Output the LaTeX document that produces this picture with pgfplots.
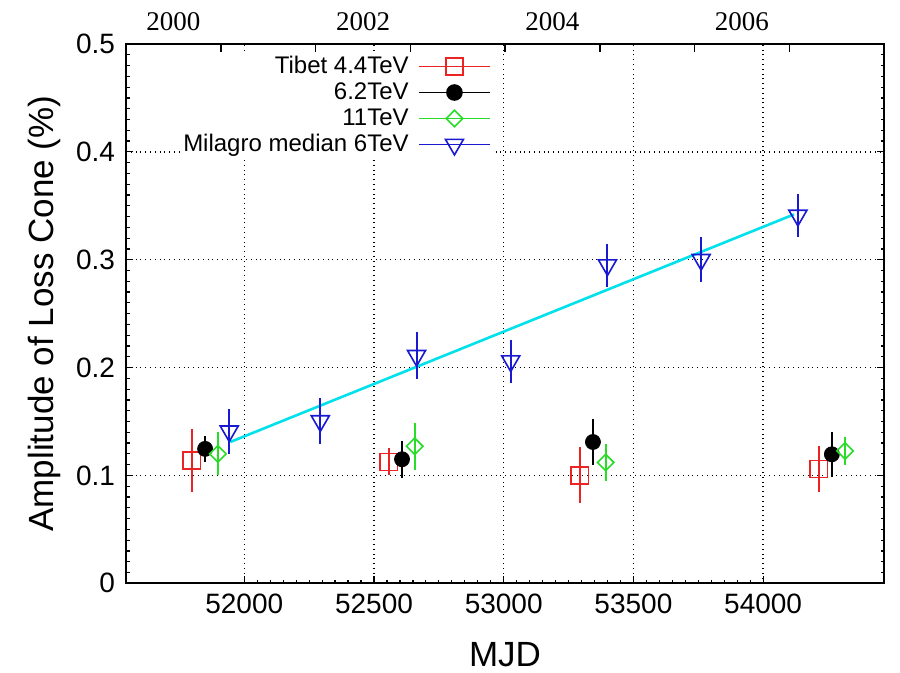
\documentclass[border=0pt]{standalone}
\usepackage{fontspec}
\setmainfont{Liberation Sans}
\newfontfamily\yearfont{Liberation Serif}
\usepackage{pgfplots}
\pgfplotsset{compat=1.18}

\definecolor{tibetred}{RGB}{235,35,35}
\definecolor{tibetgreen}{RGB}{40,220,40}
\definecolor{milblue}{RGB}{25,25,210}
\definecolor{fitcyan}{RGB}{0,225,235}

\pgfplotstableread{
x      y       e
51798  0.1140  0.029
52557  0.1125  0.0125
53293  0.1000  0.026
54215  0.1060  0.021
}\tibetlow
\pgfplotstableread{
x      y       e
51849  0.1246  0.012
52608  0.1150  0.017
53344  0.1310  0.021
54265  0.1196  0.021
}\tibetmid
\pgfplotstableread{
x      y       e
51898  0.1200  0.020
52657  0.1270  0.022
53393  0.1120  0.017
54316  0.1227  0.013
}\tibethigh
\pgfplotstableread{
x      y       e
51942  0.1410  0.021
52293  0.1505  0.021
52664  0.2110  0.022
53027  0.2060  0.020
53400  0.2950  0.020
53761  0.3000  0.021
54134  0.3410  0.020
}\milagro

% legend sample: coloured line with the marker in its middle
\newcommand{\legsample}[2]{%
  \addlegendimage{legend image code/.code={%
    \draw[#1, line width=0.75pt] (0pt,0pt) -- (35.5pt,0pt);
    \draw[#1, line width=0.8pt] plot[#2] coordinates {(17.75pt,0pt)};}}}

\begin{document}
\begin{tikzpicture}
\useasboundingbox (0,0) rectangle (450pt,336.5pt);

% top axis: calendar years
\begin{axis}[
    at={(63pt,44.85pt)}, anchor=south west,
    scale only axis, width=379pt, height=269.65pt,
    xmin=51544, xmax=54466, ymin=0, ymax=0.5,
    axis x line*=top, hide y axis,
    scaled x ticks=false,
    tick align=inside,
    xtick={51910,52275,52640,53005,53371,53736,54101},
    xticklabels={},
    major tick length=4pt,
    every tick/.style={black, line width=0.6pt},
    axis line style={line width=1pt},
    extra x ticks={51727,52458,53188,53918},
    extra x tick labels={2000,2002,2004,2006},
    extra x tick style={major tick length=0pt,
        tick label style={font=\yearfont\fontsize{13.5}{14}\selectfont, yshift=3pt}},
]
\end{axis}

\begin{axis}[
    at={(63pt,44.85pt)}, anchor=south west,
    scale only axis, width=379pt, height=269.65pt,
    xmin=51544, xmax=54466, ymin=0, ymax=0.5,
    xtick={52000,52500,53000,53500,54000},
    ytick={0,0.1,0.2,0.3,0.4,0.5},
    scaled x ticks=false,
    minor x tick num=9, minor y tick num=9,
    xtick pos=left, ytick pos=both,
    tick align=inside,
    major tick length=3.5pt, minor tick length=1.75pt,
    every tick/.style={black, line width=0.6pt},
    axis line style={line width=1pt},
    grid=major,
    major grid style={black, dotted, line width=0.7pt},
    /pgf/number format/assume math mode=true,
    tick label style={font=\fontsize{14}{16}\selectfont},
    x tick label style={/pgf/number format/1000 sep={}, yshift=-2pt},
    y tick label style={/pgf/number format/fixed, xshift=-2pt},
    xlabel={MJD},
    ylabel={Amplitude of Loss Cone (\%)},
    label style={font=\fontsize{17.5}{20}\selectfont},
    xlabel style={at={(axis description cs:0.5,-0.133)}, anchor=center},
    ylabel style={at={(axis description cs:-0.108,0.5)}, anchor=center},
    legend plot pos=right,
    legend cell align=right,
    legend style={at={(0.4843,0.9868)}, anchor=north east, draw=none, fill=white,
        inner sep=1pt, row sep=0pt, /tikz/column sep=4pt,
        font=\fontsize{12}{13}\selectfont,
        nodes={text height=9pt, text depth=2.5pt, inner sep=0.75pt}},
]
\addplot[fitcyan, line width=1.3pt, forget plot] coordinates {(51946,0.131) (54119,0.342)};

\addplot[only marks, tibetred, mark=square, mark size=4.3pt, mark options={line width=0.8pt},
    forget plot, error bars/.cd, y dir=both, y explicit, error mark=none,
    error bar style={line width=1pt}]
    table[x=x, y=y, y error=e] {\tibetlow};
\addplot[only marks, black, mark=*, mark size=3.75pt,
    forget plot, error bars/.cd, y dir=both, y explicit, error mark=none,
    error bar style={line width=1pt}]
    table[x=x, y=y, y error=e] {\tibetmid};
\addplot[only marks, tibetgreen, mark=square, mark size=2.9pt, mark options={line width=0.8pt, rotate=45},
    forget plot, error bars/.cd, y dir=both, y explicit, error mark=none,
    error bar style={line width=1pt}]
    table[x=x, y=y, y error=e] {\tibethigh};
\addplot[only marks, milblue, mark=triangle, mark size=5.2pt, mark options={line width=0.8pt, rotate=180},
    forget plot, error bars/.cd, y dir=both, y explicit, error mark=none,
    error bar style={line width=1pt}]
    table[x=x, y=y, y error=e] {\milagro};

\legsample{tibetred}{mark=square, mark size=4.3pt}
\addlegendentry{Tibet 4.4TeV}
\legsample{black}{mark=*, mark size=3.75pt}
\addlegendentry{6.2TeV}
\legsample{tibetgreen}{mark=square, mark size=2.9pt, mark options={rotate=45}}
\addlegendentry{11TeV}
\legsample{milblue}{mark=triangle, mark size=5.2pt, mark options={rotate=180}}
\addlegendentry{Milagro median 6TeV}
\end{axis}
\end{tikzpicture}
\end{document}
